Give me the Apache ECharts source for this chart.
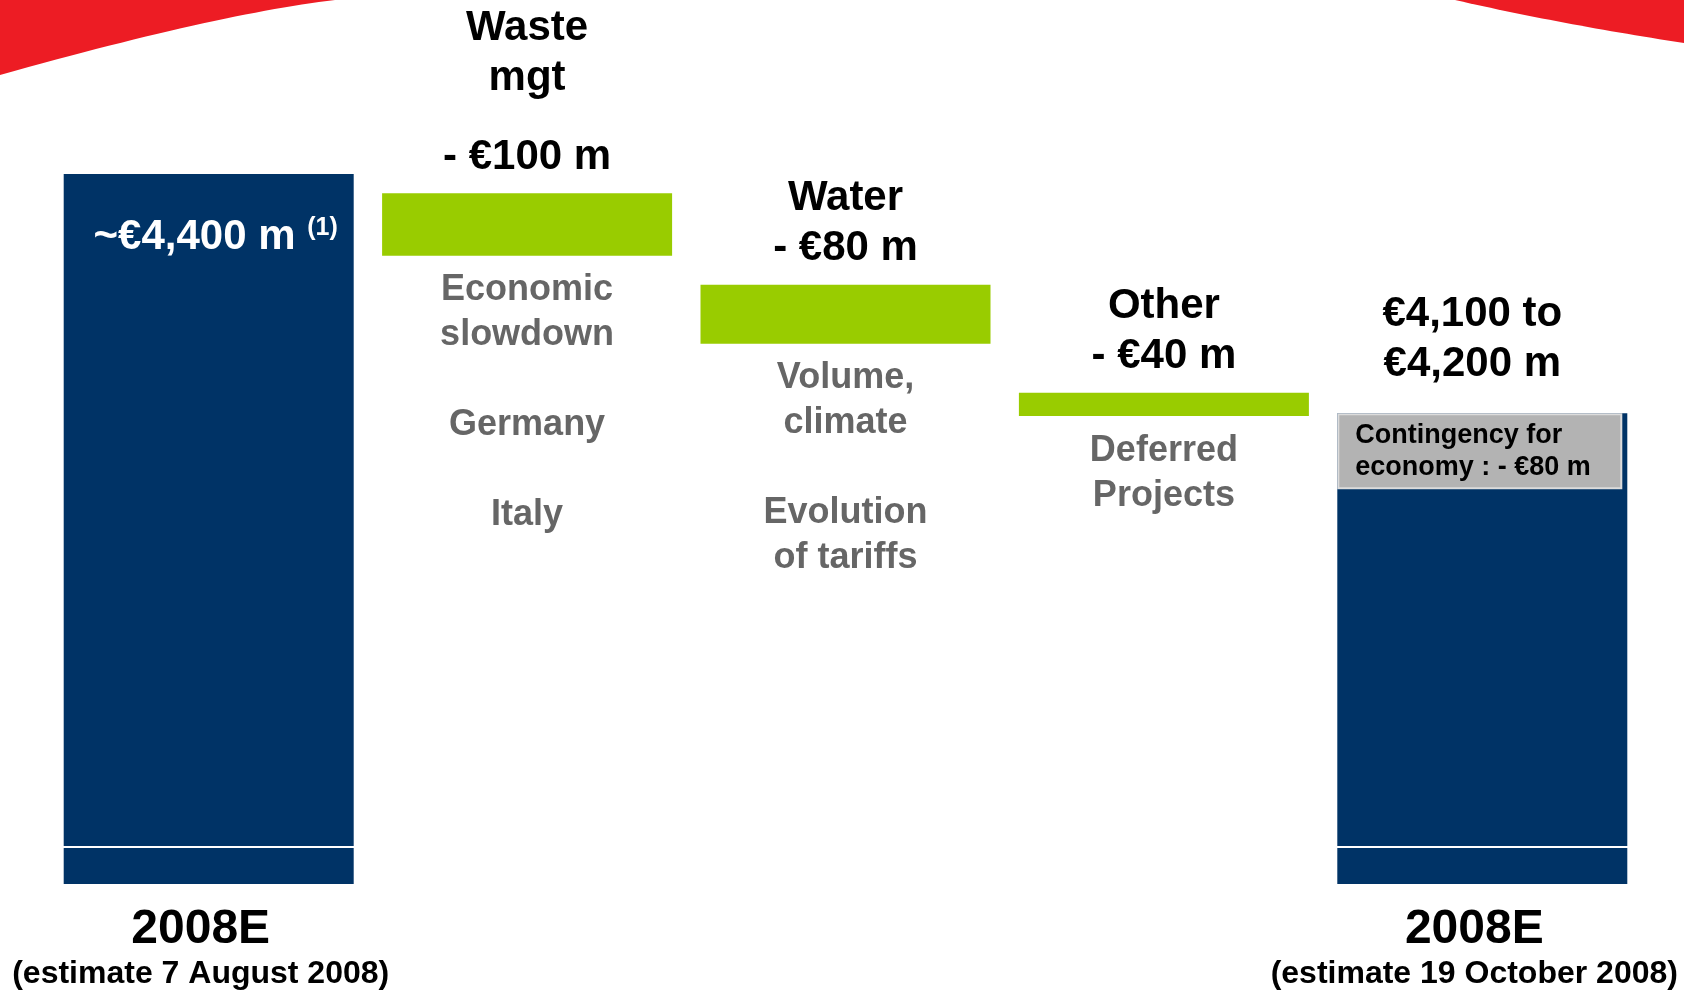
<!DOCTYPE html>
<html>
<head>
<meta charset="utf-8">
<script src="https://cdn.jsdelivr.net/npm/echarts@6/dist/echarts.min.js"></script>
<style>
  html, body { margin: 0; padding: 0; background: #fff; }
  #chart { width: 1684px; height: 991px; }
</style>
</head>
<body>
<div id="chart"></div>
<script>
// categories and axis texts
const categories = ['2008E Aug', 'Waste mgt', 'Water', 'Other', '2008E Oct'];
const axisTitles = ['2008E', '', '', '', '2008E'];
const axisSubtitles = ['(estimate 7 August 2008)', '', '', '', '(estimate 19 October 2008)'];

// levels on the (hidden, schematic) value axis
const totalValues = [4400, '-', '-', '-', 4063];
const stepTops = ['-', 4373, 4244, 4092, '-'];
const stepBottoms = ['-', 4285, 4161, 4059, '-'];
const contingencyTops = ['-', '-', '-', '-', 4063];
const contingencyBottoms = ['-', '-', '-', '-', 3956];
const breakLevel = 3452;

// label texts
const totalLabels = ['~€4,400 m', '', '', '', '€4,100 to\n€4,200 m'];
const footnote = '(1)';
const stepNames = ['', 'Waste\nmgt\n', 'Water', 'Other', ''];
const stepAmounts = ['', '- €100 m', '- €80 m', '- €40 m', ''];
const stepNotes = ['', 'Economic\nslowdown\n\nGermany\n\nItaly', 'Volume,\nclimate\n\nEvolution\nof tariffs', 'Deferred\nProjects', ''];
const contingencyText = 'Contingency for\neconomy : - €80 m';

const BLUE = '#003366';
const GREEN = '#99CC00';
const RED = '#ED1C24';
const FONT = '"Liberation Sans", Arial, sans-serif';

const diff = (tops, bottoms) => tops.map((v, i) => (v === '-' ? '-' : v - bottoms[i]));

// decorative red swoosh corners of the slide
const quad = (p0, c, p1, n) => {
  const pts = [];
  for (let i = 0; i <= n; i++) {
    const t = i / n, u = 1 - t;
    pts.push([u * u * p0[0] + 2 * u * t * c[0] + t * t * p1[0], u * u * p0[1] + 2 * u * t * c[1] + t * t * p1[1]]);
  }
  return pts;
};

const chart = echarts.init(document.getElementById('chart'));

const option = {
  animation: false,
  backgroundColor: '#fff',
  textStyle: { fontFamily: FONT },
  graphic: [
    {
      type: 'polygon',
      shape: { points: [[0, -2], [335, -2]].concat(quad([335, 0], [217, 14], [0, 75], 30)) },
      style: { fill: RED },
      silent: true
    },
    {
      type: 'polygon',
      shape: { points: quad([1455, 0], [1560, 24], [1684, 43], 30).concat([[1684, -2], [1455, -2]]) },
      style: { fill: RED },
      silent: true
    }
  ],
  grid: { left: 47, right: 45, top: 103, bottom: 107 },
  xAxis: {
    type: 'category',
    data: categories,
    axisLine: { show: false },
    axisTick: { show: false },
    axisLabel: {
      interval: 0,
      margin: 18,
      padding: [0, 11, 0, 0],
      formatter: (v, i) => axisTitles[i] ? `{t|${axisTitles[i]}}\n{s|${axisSubtitles[i]}}` : '',
      rich: {
        t: { fontSize: 48, fontWeight: 'bold', color: '#000', lineHeight: 56, fontFamily: FONT },
        s: { fontSize: 32, fontWeight: 'bold', color: '#000', lineHeight: 32, fontFamily: FONT }
      }
    }
  },
  yAxis: { type: 'value', min: 3400, max: 4500, show: false },
  series: [
    {
      name: 'base',
      type: 'bar',
      stack: 'wf',
      barWidth: 290,
      barGap: '-100%',
      itemStyle: { color: 'transparent' },
      label: {
        show: true,
        position: 'insideTop',
        distance: 12,
        color: '#666666',
        fontSize: 36,
        fontWeight: 'bold',
        lineHeight: 45,
        formatter: (p) => stepNotes[p.dataIndex]
      },
      data: stepBottoms
    },
    {
      name: 'change',
      type: 'bar',
      stack: 'wf',
      barWidth: 290,
      barGap: '-100%',
      itemStyle: { color: GREEN },
      label: {
        show: true,
        position: 'top',
        distance: 11,
        lineHeight: 29,
        formatter: (p) => {
          const lines = stepNames[p.dataIndex].split('\n').map((t) => (t ? `{n|${t}}` : '{g| }'));
          lines.push(`{n|${stepAmounts[p.dataIndex]}}`);
          return lines.join('\n');
        },
        rich: {
          n: { fontSize: 42, fontWeight: 'bold', color: '#000', lineHeight: 50, fontFamily: FONT },
          g: { fontSize: 10, lineHeight: 29 }
        }
      },
      data: diff(stepTops, stepBottoms)
    },
    {
      name: 'total',
      type: 'bar',
      stack: 'wf',
      barWidth: 290,
      barGap: '-100%',
      itemStyle: { color: BLUE },
      data: totalValues.map((v, i) => {
        if (i === 0) {
          return {
            value: v,
            label: {
              show: true,
              position: 'insideTop',
              distance: 42,
              offset: [7, 0],
              formatter: `{v|${totalLabels[i]} }{s|${footnote}}`,
              rich: {
                v: { fontSize: 42, fontWeight: 'bold', color: '#fff', lineHeight: 42, fontFamily: FONT },
                s: { fontSize: 25, fontWeight: 'bold', color: '#fff', lineHeight: 42, verticalAlign: 'top', fontFamily: FONT }
              }
            }
          };
        }
        if (i === totalValues.length - 1) {
          return {
            value: v,
            label: {
              show: true,
              position: 'top',
              distance: 24,
              offset: [-10, 0],
              color: '#000',
              fontSize: 42,
              fontWeight: 'bold',
              lineHeight: 50,
              formatter: totalLabels[i]
            }
          };
        }
        return v;
      }),
      markLine: {
        silent: true,
        symbol: ['none', 'none'],
        label: { show: false },
        lineStyle: { color: '#fff', width: 2, type: 'solid' },
        data: [{ yAxis: breakLevel }]
      }
    },
    {
      name: 'contingencyBase',
      type: 'bar',
      stack: 'cont',
      barWidth: 285,
      barGap: '-100%',
      itemStyle: { color: 'transparent' },
      data: contingencyBottoms
    },
    {
      name: 'contingency',
      type: 'bar',
      stack: 'cont',
      barWidth: 285,
      barGap: '-100%',
      itemStyle: { color: '#b3b3b3', borderColor: '#dcdcdc', borderWidth: 2 },
      label: {
        show: true,
        position: 'insideLeft',
        distance: 18,
        align: 'left',
        color: '#000',
        fontSize: 27,
        fontWeight: 'bold',
        lineHeight: 32,
        formatter: contingencyText
      },
      data: diff(contingencyTops, contingencyBottoms)
    }
  ]
};

chart.setOption(option);
</script>
</body>
</html>
